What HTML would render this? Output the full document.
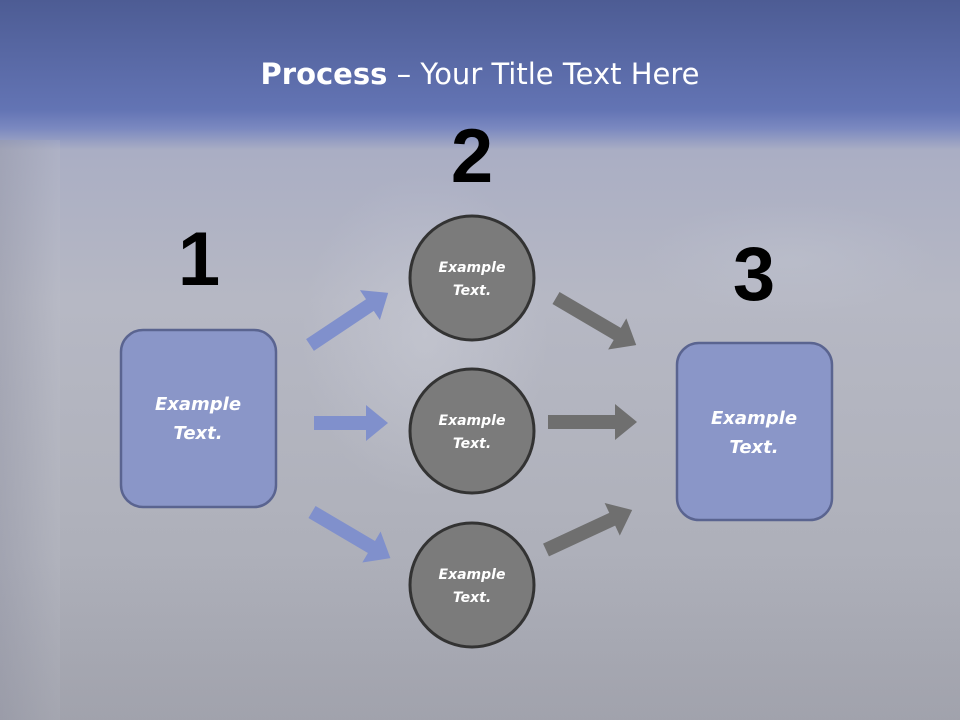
<!DOCTYPE html>
<html><head><meta charset="utf-8"><style>
html,body{margin:0;padding:0}
body{width:960px;height:720px;overflow:hidden;position:relative;font-family:"Liberation Sans",sans-serif;
background:linear-gradient(180deg,#4d5c94 0px,#6374b4 110px,#7a88c0 128px,#aaaec4 150px,#b6b8c4 300px,#b0b2bc 500px,#a6a8b2 720px);}
.sh{position:absolute}
</style></head><body>
<div class="sh" style="left:0;top:140px;width:60px;height:580px;background:linear-gradient(90deg,rgba(150,152,168,0.5),rgba(190,192,202,0.2))"></div>
<div class="sh" style="left:300px;top:170px;width:250px;height:330px;background:radial-gradient(ellipse at center,rgba(215,217,225,0.35),rgba(215,217,225,0) 70%)"></div>
<div class="sh" style="left:640px;top:200px;width:300px;height:120px;background:radial-gradient(ellipse at center,rgba(200,204,214,0.3),rgba(200,204,214,0) 70%)"></div>
<div class="sh" style="left:0;top:560px;width:960px;height:160px;background:linear-gradient(180deg,rgba(140,140,150,0),rgba(140,140,150,0.2))"></div>
<div class="sh" style="left:0;top:57px;width:960px;text-align:center;color:#fff;font-size:29px;font-family:'DejaVu Sans',sans-serif"><b>Process</b> – Your Title Text Here</div>
<svg class="sh" style="left:0;top:0" width="960" height="720">
<g font-family="Liberation Sans,sans-serif" font-weight="bold" font-size="76" fill="#000" text-anchor="middle">
<text x="472" y="182">2</text><text x="199" y="285">1</text><text x="754" y="300">3</text></g>
<g fill="#8090cc">
<polygon transform="translate(310,345) rotate(-33.7)" points="0,-7 72,-7 72,-18 94,0 72,18 72,7 0,7"/>
<polygon transform="translate(314,423)" points="0,-7 52,-7 52,-18 74,0 52,18 52,7 0,7"/>
<polygon transform="translate(312,512) rotate(30.5)" points="0,-7 69,-7 69,-18 91,0 69,18 69,7 0,7"/>
</g>
<g fill="#6f6f6f">
<polygon transform="translate(556,298) rotate(30.4)" points="0,-7 71,-7 71,-18 93,0 71,18 71,7 0,7"/>
<polygon transform="translate(548,422)" points="0,-7 67,-7 67,-18 89,0 67,18 67,7 0,7"/>
<polygon transform="translate(546,550) rotate(-24.9)" points="0,-7 73,-7 73,-18 95,0 73,18 73,7 0,7"/>
</g>
<rect x="121" y="330" width="155" height="177" rx="22" fill="#8a96c8" stroke="#5a6490" stroke-width="2.5"/>
<rect x="677" y="343" width="155" height="177" rx="22" fill="#8a96c8" stroke="#5a6490" stroke-width="2.5"/>
<g fill="#7b7b7b" stroke="#333" stroke-width="3">
<circle cx="472" cy="278" r="62"/><circle cx="472" cy="431" r="62"/><circle cx="472" cy="585" r="62"/></g>
<g fill="#fff" font-style="italic" font-weight="bold" text-anchor="middle" font-family="DejaVu Sans,sans-serif">
<g font-size="18"><text x="198" y="410">Example</text><text x="198" y="439">Text.</text>
<text x="754" y="424">Example</text><text x="754" y="453">Text.</text></g>
<g font-size="14"><text x="472" y="272">Example</text><text x="472" y="295">Text.</text>
<text x="472" y="425">Example</text><text x="472" y="448">Text.</text>
<text x="472" y="579">Example</text><text x="472" y="602">Text.</text></g>
</g>
</svg>
</body></html>
